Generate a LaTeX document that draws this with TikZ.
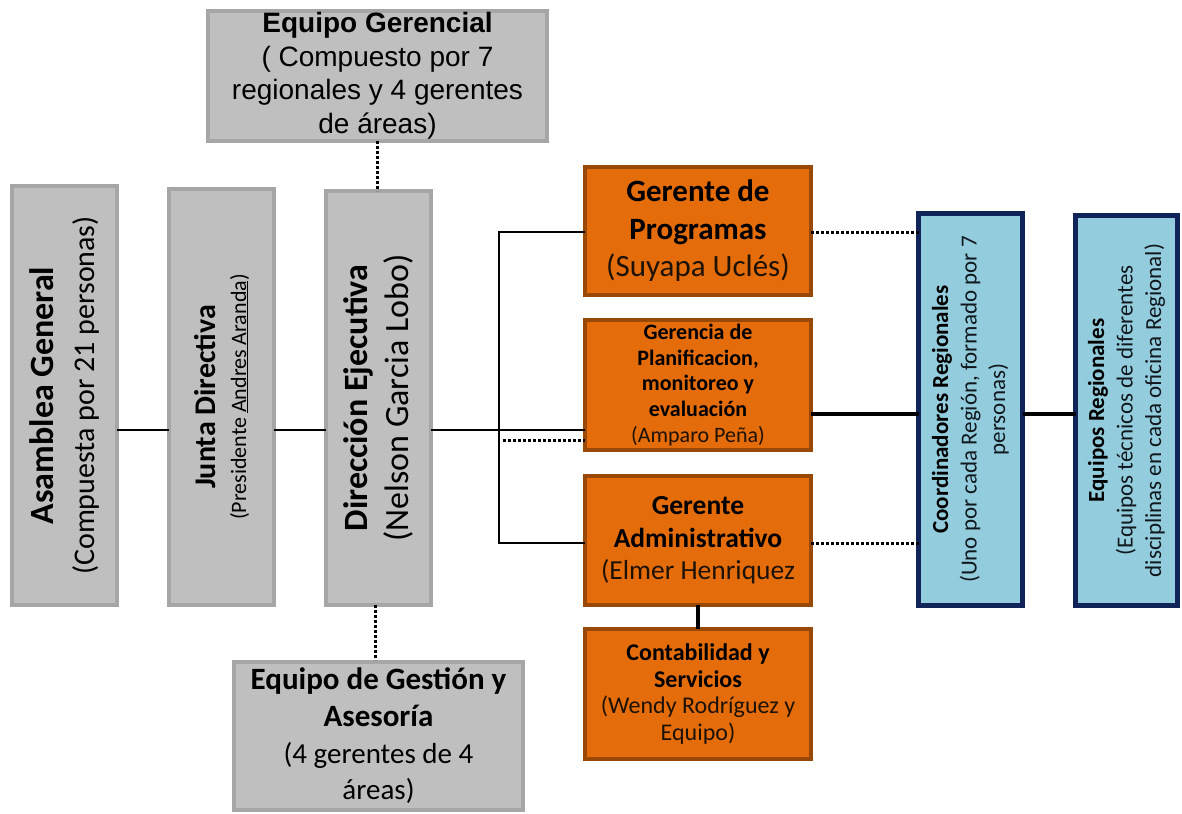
\documentclass[tikz,border=0pt]{standalone}
\usepackage{fontspec}
\setmainfont{Carlito}
\newfontfamily\arialf{Liberation Sans}
\definecolor{grayfill}{HTML}{BFBFBF}
\definecolor{grayline}{HTML}{A6A6A6}
\definecolor{orfill}{HTML}{E46C0A}
\definecolor{orline}{HTML}{984807}
\definecolor{blfill}{HTML}{93CDDD}
\definecolor{blline}{HTML}{10245A}
\definecolor{ortext}{HTML}{1E1206}
\definecolor{bltext}{HTML}{10181E}
\tikzset{
  graybox/.style={draw=grayline, fill=grayfill, line width=4pt, inner sep=0pt, outer sep=0pt, align=center, text=black},
  orbox/.style={draw=orline, fill=orfill, line width=4pt, inner sep=0pt, outer sep=0pt, align=center, text=black},
  blbox/.style={draw=blline, fill=blfill, line width=5pt, inner sep=0pt, outer sep=0pt, align=center, text=black},
  thinln/.style={line width=2pt, black},
  thickln/.style={line width=3.5pt, black},
  dotln/.style={line width=3pt, black, dash pattern=on 3pt off 2pt},
}
\newcommand{\fs}[2]{\fontsize{#1}{#2}\selectfont}
\begin{document}
\begin{tikzpicture}[x=1pt,y=-1pt]
\useasboundingbox (0,0) rectangle (1182,813);

% gray boxes
\node[graybox, minimum width=339, minimum height=130, font=\arialf\fs{28}{33.5}] (EG) at (377.5,76)
  {\textbf{Equipo Gerencial}\\( Compuesto por 7\\regionales y 4 gerentes\\de áreas)};
\node[graybox, rotate=90, minimum width=419, minimum height=105, font=\fs{30}{41}] (AG) at (64.5,395.5)
  {{\fs{34}{41}\textbf{Asamblea General}}\\(Compuesta por 21 personas)};
\node[graybox, rotate=90, minimum width=416, minimum height=105, font=\fs{22}{31}] (JD) at (221.5,397)
  {{\fs{30}{31}\textbf{Junta Directiva}}\\(Presidente \underline{Andres Aranda})};
\node[graybox, rotate=90, minimum width=414, minimum height=105, font=\fs{34}{41}] (DE) at (378.5,398)
  {\textbf{Dirección Ejecutiva}\\(Nelson Garcia Lobo)};
\node[graybox, minimum width=289, minimum height=148, font=\fs{29}{36.7}] (EGA) at (378.5,736)
  {{\fs{31}{36.7}\textbf{Equipo de Gestión y}}\\{\fs{31}{36.7}\textbf{Asesoría}}\\(4 gerentes de 4\\áreas)};

% orange boxes
\node[orbox, minimum width=226, minimum height=128, font=\fs{31}{37.5}] (GP) at (698,231)
  {\textbf{Gerente de}\\\textbf{Programas}\\\textcolor{ortext}{(Suyapa Uclés)}};
\node[orbox, minimum width=226, minimum height=130, font=\fs{22}{25.8}] (GPL) at (698,385)
  {\textbf{Gerencia de}\\\textbf{Planificacion,}\\\textbf{monitoreo y}\\\textbf{evaluación}\\\textcolor{ortext}{(Amparo Peña)}};
\node[orbox, minimum width=226, minimum height=129, font=\fs{27.5}{32.5}] (GA) at (698,540.5)
  {\textbf{Gerente}\\\textbf{Administrativo}\\\textcolor{ortext}{(Elmer Henriquez}};
\node[orbox, minimum width=226, minimum height=130, font=\fs{24}{26.7}] (CS) at (698,694)
  {\textbf{Contabilidad y}\\\textbf{Servicios}\\\textcolor{ortext}{(Wendy Rodríguez y}\\\textcolor{ortext}{Equipo)}};

% blue boxes
\node[blbox, rotate=90, minimum width=392, minimum height=104, font=\fs{23}{28.5}] (CR) at (970.5,409.5)
  {\textbf{Coordinadores Regionales}\\\textcolor{bltext}{(Uno por cada Región, formado por 7}\\\textcolor{bltext}{personas)}};
\node[blbox, rotate=90, minimum width=390, minimum height=102, font=\fs{23}{28.5}] (ER) at (1126.5,410.5)
  {\textbf{Equipos Regionales}\\\textcolor{bltext}{(Equipos técnicos de diferentes}\\\textcolor{bltext}{disciplinas en cada oficina Regional)}};

% helper coordinates
\coordinate (hy) at (0,430);
\coordinate (bx) at (499,0);
\coordinate (d1) at (503,440);
\coordinate (ry) at (0,414);

% connectors
\draw[thinln] (AG.south |- hy) -- (JD.north |- hy);
\draw[thinln] (JD.south |- hy) -- (DE.north |- hy);
\draw[thinln] (DE.south |- hy) -- (GPL.west |- hy);
\draw[thinln, line width=2.5pt] (GP.west |- 0,232) -- (bx |- 0,232) -- (bx |- 0,543) -- (GA.west |- 0,543);
\draw[dotln] (d1) -- (GPL.west |- d1);
\draw[dotln] (EG.south) -- (EG.south |- DE.east);
\draw[dotln] (DE.west -| 375,0) -- (375,660);
\draw[dotln] (GP.east |- 0,232) -- (CR.north |- 0,232);
\draw[thickln] (GPL.east |- ry) -- (CR.north |- ry);
\draw[dotln] (GA.east |- 0,543) -- (CR.north |- 0,543);
\draw[thickln] (CR.south |- ry) -- (ER.north |- ry);
\draw[line width=4pt] (GA.south) -- (CS.north);
\end{tikzpicture}
\end{document}
